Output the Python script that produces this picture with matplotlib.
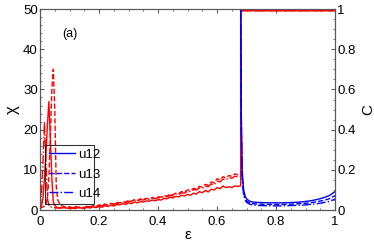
import matplotlib
matplotlib.use('Agg')
import matplotlib.pyplot as plt
from matplotlib.ticker import MultipleLocator

plt.rcParams['font.family'] = ['Liberation Sans', 'DejaVu Sans']

# coupling values below the transition (red, chi on the left axis)
eps_lo = [0.0, 0.005, 0.01, 0.015, 0.02, 0.025, 0.03, 0.035, 0.04, 0.045, 0.05,
          0.055, 0.06, 0.065, 0.07, 0.08, 0.09, 0.10, 0.11, 0.12, 0.13, 0.14,
          0.15, 0.16, 0.17, 0.18, 0.19, 0.20, 0.21, 0.22, 0.23, 0.24, 0.25,
          0.26, 0.27, 0.28, 0.29, 0.30, 0.31, 0.32, 0.33, 0.34, 0.35, 0.36,
          0.37, 0.38, 0.39, 0.40, 0.41, 0.42, 0.43, 0.44, 0.45, 0.46, 0.47,
          0.48, 0.49, 0.50, 0.51, 0.52, 0.53, 0.54, 0.55, 0.56, 0.57, 0.58,
          0.59, 0.60, 0.61, 0.62, 0.63, 0.64, 0.65, 0.66, 0.67, 0.68]

chi_u12 = [0.5, 1.0, 3.0, 8.0, 14.0, 21.0, 27.0, 18.0, 8.0, 2.0, 1.2,
           0.8, 0.6, 0.5, 0.5, 0.6, 0.5, 0.4, 0.5, 0.4, 0.6, 0.5,
           0.4, 0.7, 0.5, 0.8, 0.6, 0.9, 0.7, 1.1, 0.9, 1.2, 1.0,
           1.4, 1.3, 1.6, 1.4, 1.8, 1.6, 2.0, 1.8, 2.1, 2.0, 2.3,
           2.2, 2.5, 2.3, 2.6, 2.5, 2.9, 2.8, 3.2, 3.0, 3.4, 3.3,
           3.7, 3.5, 3.9, 3.7, 4.2, 4.0, 4.6, 4.3, 4.9, 4.5, 5.2,
           5.0, 5.6, 5.3, 6.0, 5.6, 5.8, 5.6, 6.0, 5.9, 6.0]

chi_u13 = [0.5, 0.6, 0.8, 1.0, 1.5, 3.0, 8.0, 18.0, 30.0, 35.0, 25.0,
           6.0, 2.5, 1.8, 1.2, 0.9, 0.7, 0.8, 0.6, 0.9, 0.7, 0.8,
           0.6, 1.0, 0.8, 1.1, 0.9, 1.3, 1.1, 1.5, 1.3, 1.7, 1.5,
           1.9, 1.8, 2.1, 2.0, 2.4, 2.2, 2.6, 2.4, 2.8, 2.6, 2.9,
           2.8, 3.1, 2.9, 3.3, 3.2, 3.6, 3.5, 3.9, 3.8, 4.2, 4.1,
           4.6, 4.5, 5.0, 4.9, 5.4, 5.3, 5.9, 5.7, 6.4, 6.2, 7.0,
           6.8, 7.8, 7.5, 8.3, 8.0, 8.6, 8.4, 9.0, 8.8, 9.0]

chi_u14 = [0.5, 4.0, 12.0, 22.0, 12.0, 3.0, 1.0, 0.8, 0.7, 0.6, 0.6,
           0.5, 0.6, 0.5, 0.6, 0.7, 0.6, 0.7, 0.5, 0.8, 0.6, 0.7,
           0.6, 0.9, 0.7, 1.0, 0.8, 1.2, 1.0, 1.4, 1.2, 1.6, 1.4,
           1.7, 1.6, 2.0, 1.8, 2.2, 2.1, 2.4, 2.3, 2.6, 2.5, 2.8,
           2.6, 3.0, 2.8, 3.1, 3.0, 3.4, 3.3, 3.7, 3.5, 4.0, 3.9,
           4.3, 4.2, 4.7, 4.6, 5.1, 5.0, 5.5, 5.4, 6.0, 5.8, 6.5,
           6.3, 7.2, 7.0, 7.7, 7.5, 8.1, 7.9, 8.4, 8.3, 8.4]

# chi saturates at the top of the scale above the transition
eps_top = [0.68, 1.0]
chi_top = 49.6

# coupling values above the transition (blue, C on the right axis)
eps_hi = [0.68, 0.682, 0.685, 0.69, 0.695, 0.70, 0.71, 0.72, 0.74, 0.76, 0.78,
          0.80, 0.82, 0.84, 0.86, 0.88, 0.90, 0.92, 0.94, 0.96, 0.98, 1.0]
c_u12 = [1.0, 0.5, 0.2, 0.1, 0.07, 0.055, 0.045, 0.04, 0.038, 0.037, 0.036,
         0.036, 0.036, 0.037, 0.038, 0.040, 0.043, 0.047, 0.053, 0.061, 0.072, 0.092]
c_u13 = [1.0, 0.45, 0.17, 0.085, 0.06, 0.045, 0.036, 0.032, 0.030, 0.029, 0.028,
         0.028, 0.028, 0.029, 0.030, 0.032, 0.034, 0.037, 0.042, 0.048, 0.056, 0.072]
c_u14 = [1.0, 0.4, 0.15, 0.075, 0.05, 0.038, 0.030, 0.025, 0.023, 0.022, 0.021,
         0.021, 0.021, 0.022, 0.023, 0.024, 0.026, 0.029, 0.032, 0.037, 0.043, 0.055]

labels = ['u12', 'u13', 'u14']
styles = ['-', '--', '-.']

fig = plt.figure(figsize=(3.74, 2.44), dpi=100)
ax = fig.add_axes([0.107, 0.139, 0.789, 0.824])
ax2 = ax.twinx()

# red chi curves, each jumping to the top at the transition
for chi, ls in zip([chi_u12, chi_u13, chi_u14], styles):
    ax.plot(eps_lo + eps_top, chi + [chi_top, chi_top], color='red', ls=ls, lw=1)

# blue C curves after the transition
for c, ls, lab in zip([c_u12, c_u13, c_u14], styles, labels):
    ax2.plot(eps_hi, c, color='blue', ls=ls, lw=1, label=lab)

ax.set_xlim(0, 1)
ax.set_ylim(0, 50)
ax2.set_ylim(0, 1)

ax.xaxis.set_minor_locator(MultipleLocator(0.05))
ax.yaxis.set_major_locator(MultipleLocator(10))
ax.yaxis.set_minor_locator(MultipleLocator(2))
ax2.yaxis.set_minor_locator(MultipleLocator(0.05))

ax.set_xticks([0, 0.2, 0.4, 0.6, 0.8, 1.0])
ax.set_xticklabels(['0', '0.2', '0.4', '0.6', '0.8', '1'])
ax2.set_yticks([0, 0.2, 0.4, 0.6, 0.8, 1.0])
ax2.set_yticklabels(['0', '0.2', '0.4', '0.6', '0.8', '1'])

for a in (ax, ax2):
    a.tick_params(which='both', direction='in', labelsize=9.5, pad=1.5, color='0.35')
    a.tick_params(which='major', length=3)
    a.tick_params(which='minor', length=1.5)
    for sp in a.spines.values():
        sp.set_color('0.35')
ax.tick_params(axis='x', which='both', top=True, pad=4)

ax.set_xlabel('ε', fontsize=11, labelpad=0)
ax.set_ylabel('χ', fontsize=12, labelpad=2)
ax2.set_ylabel('C', fontsize=11, labelpad=4)

ax.text(0.075, 0.86, '(a)', transform=ax.transAxes, fontsize=9)

leg = ax2.legend(loc='lower left', bbox_to_anchor=(0.017, 0.03, 0.166, 0.287),
                 mode='expand', fontsize=9.5, frameon=True, fancybox=False,
                 facecolor='none', edgecolor='black', handlelength=2.0,
                 handletextpad=0.2, borderpad=0.3, labelspacing=0.55,
                 borderaxespad=0)
leg.get_frame().set_linewidth(0.8)

fig.savefig('out.png', dpi=100)
